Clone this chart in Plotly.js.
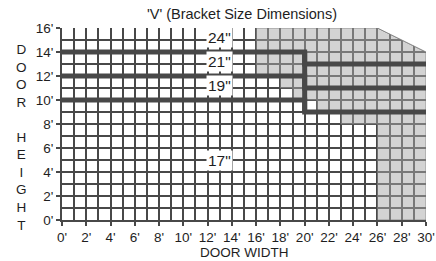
<!DOCTYPE html>
<html><head><meta charset="utf-8">
<script src="https://cdn.plot.ly/plotly-3.0.1.min.js"></script>
<style>body{margin:0;background:#fff}#chart{width:436px;height:261px}</style>
</head><body><div id="chart"></div>
<script>
// Bracket size labels and where they sit
const sizeLabels = ['24"', '21"', '19"', '17"'];
const labelX = [13, 13, 13, 13];
const labelY = [15.2, 13.2, 11.2, 5.0];

// Step boundary lines (door width ft, door height ft)
const stepX = [0, 20, 20, 30];
const line24Y = [14, 14, 13, 13];
const line21Y = [12, 12, 11, 11];
const line19Y = [10, 10, 9, 9];
const dividerX = [20, 20];
const dividerY = [14, 9];

// Shaded (not available) region outline
const shadeX = [16, 26, 30, 30, 26, 26, 23, 23, 21, 21, 19, 19, 18, 18, 16, 16];
const shadeY = [16, 16, 14, 0, 0, 8, 8, 9, 9, 10, 10, 11, 11, 12, 12, 16];

// Clipped corner (blank) outline
const cornerX = [26, 31, 31, 26];
const cornerY = [16, 13.5, 17, 17];

// Tick labels
const xTickVals = [0, 2, 4, 6, 8, 10, 12, 14, 16, 18, 20, 22, 24, 26, 28, 30];
const xTickText = ["0'", "2'", "4'", "6'", "8'", "10'", "12'", "14'", "16'", "18'", "20'", "22'", "24'", "26'", "28'", "30'"];
const yTickVals = [0, 2, 4, 6, 8, 10, 12, 14, 16];
const yTickText = ["0'", "2'", "4'", "6'", "8'", "10'", "12'", "14'", "16'"];

const yTitleLetters = ['D', 'O', 'O', 'R', '', 'H', 'E', 'I', 'G', 'H', 'T'];

const FONT = 'Arial, "Liberation Sans", sans-serif';
const DARK = '#484848';
const TXT = '#1e1e1e';

const traces = [
  {x: shadeX, y: shadeY, type: 'scatter', mode: 'lines', fill: 'toself',
   fillcolor: 'rgba(168,168,168,0.5)', line: {color: 'rgba(120,120,120,0.7)', width: 1},
   hoverinfo: 'skip', showlegend: false},
  {x: cornerX, y: cornerY, type: 'scatter', mode: 'lines', fill: 'toself',
   fillcolor: '#ffffff', line: {color: '#ffffff', width: 0},
   hoverinfo: 'skip', showlegend: false},
  {x: [cornerX[0], 30], y: [cornerY[0], 14], type: 'scatter', mode: 'lines',
   line: {color: 'rgba(120,120,120,0.8)', width: 1}, hoverinfo: 'skip', showlegend: false},
  {x: stepX, y: line24Y, type: 'scatter', mode: 'lines', line: {color: DARK, width: 5}, showlegend: false},
  {x: stepX, y: line21Y, type: 'scatter', mode: 'lines', line: {color: DARK, width: 5}, showlegend: false},
  {x: stepX, y: line19Y, type: 'scatter', mode: 'lines', line: {color: DARK, width: 5}, showlegend: false},
  {x: dividerX, y: dividerY, type: 'scatter', mode: 'lines', line: {color: DARK, width: 5}, showlegend: false}
];

const annotations = sizeLabels.map((t, i) => ({
  x: labelX[i], y: labelY[i], xref: 'x', yref: 'y', text: t, showarrow: false,
  bgcolor: '#ffffff', borderpad: 1, font: {family: FONT, size: 15.5, color: TXT}
}));
annotations.push({
  xref: 'paper', yref: 'paper', x: 0.5, y: -0.1693, yanchor: 'middle',
  text: 'DOOR WIDTH', showarrow: false, borderpad: 0, font: {family: FONT, size: 13.5, color: TXT}
});
annotations.push({
  xref: 'paper', yref: 'paper', x: -0.110, y: 0.432, xanchor: 'center', yanchor: 'middle',
  text: yTitleLetters.join('<br>'), showarrow: false, align: 'center',
  font: {family: FONT, size: 13.5, color: TXT}
});

const axisCommon = {
  showgrid: true, gridcolor: DARK, gridwidth: 2, zeroline: false,
  showline: true, linecolor: DARK, linewidth: 2,
  ticks: 'outside', ticklen: 4, tickwidth: 2, tickcolor: DARK,
  tickmode: 'array', fixedrange: true,
  tickfont: {family: FONT, size: 13.5, color: TXT},
  minor: {tickmode: 'linear', tick0: 0, dtick: 1, showgrid: true, gridcolor: DARK, gridwidth: 2, ticks: ''}
};

const layout = {
  width: 436, height: 261,
  margin: {l: 62, r: 10, t: 28, b: 41},
  paper_bgcolor: '#ffffff', plot_bgcolor: '#ffffff',
  font: {family: FONT, size: 14, color: TXT},
  title: {text: "'V' (Bracket Size Dimensions)", x: 0.555, xref: 'container', xanchor: 'center',
          y: 0.946, yanchor: 'middle', font: {family: FONT, size: 14.5, color: TXT}},
  xaxis: Object.assign({}, axisCommon, {range: [0, 30], tickvals: xTickVals, ticktext: xTickText}),
  yaxis: Object.assign({}, axisCommon, {range: [0, 16], tickvals: yTickVals, ticktext: yTickText}),
  annotations: annotations,
  showlegend: false
};

Plotly.newPlot('chart', traces, layout, {displayModeBar: false, staticPlot: true});
</script>
</body></html>
